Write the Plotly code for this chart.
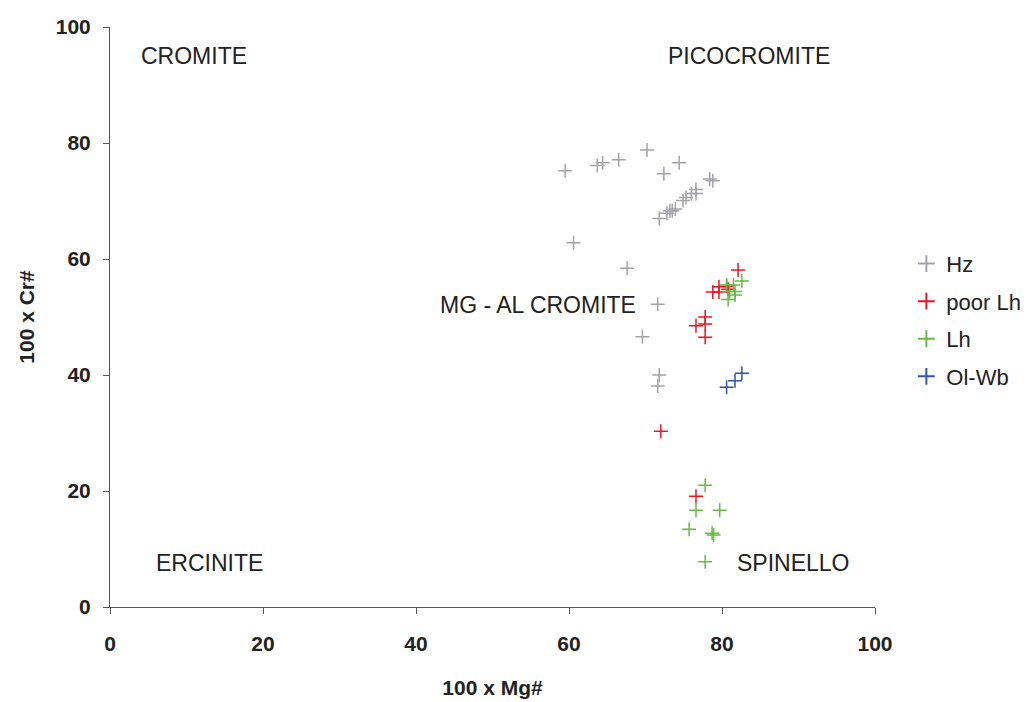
import plotly.graph_objects as go

# Hz
hz_mg = [59.5, 63.7, 64.4, 66.5, 70.2, 74.4, 72.4, 78.4, 78.8, 76.6, 76.6, 76.0, 75.3, 74.9,
         73.9, 73.5, 73.2, 72.8, 71.8, 60.6, 67.6, 71.6, 69.6, 71.8, 71.6]
hz_cr = [75.2, 76.1, 76.6, 77.1, 78.8, 76.6, 74.7, 73.8, 73.5, 72.0, 71.3, 71.3, 70.6, 70.1,
         68.6, 68.3, 68.3, 67.9, 67.0, 62.8, 58.4, 52.2, 46.6, 40.0, 38.1]
# poor Lh
plh_mg = [82.1, 78.8, 79.6, 79.6, 80.6, 80.8, 77.8, 77.8, 76.6, 77.8, 72.0, 76.6]
plh_cr = [58.1, 54.3, 55.2, 54.3, 55.3, 54.8, 50.0, 48.8, 48.5, 46.5, 30.3, 19.1]
# Lh
lh_mg = [82.6, 80.6, 81.5, 81.0, 81.7, 81.7, 80.8, 77.8, 76.6, 79.7, 75.7, 78.7, 78.9, 77.8]
lh_cr = [56.2, 55.5, 55.5, 54.4, 54.4, 53.8, 53.0, 21.0, 16.7, 16.7, 13.4, 12.7, 12.4, 7.8]
# Ol-Wb
ow_mg = [82.6, 81.7, 80.6]
ow_cr = [40.3, 39.0, 37.9]

series_names = ["Hz", "poor Lh", "Lh", "Ol-Wb"]
series_x = [hz_mg, plh_mg, lh_mg, ow_mg]
series_y = [hz_cr, plh_cr, lh_cr, ow_cr]
colors = ["#A3A3AB", "#F0141E", "#66BB44", "#2F55A8"]

field_labels = ["CROMITE", "PICOCROMITE", "MG - AL CROMITE", "ERCINITE", "SPINELLO"]
field_x = [11.0, 83.5, 56.0, 13.0, 89.3]
field_y = [95.0, 95.0, 52.0, 7.6, 7.6]

FONT = "Liberation Sans, Arial"

fig = go.Figure()
for n, xs, ys, c in zip(series_names, series_x, series_y, colors):
    fig.add_trace(go.Scatter(
        x=xs, y=ys, mode="markers", name=n, legendgroup=n,
        marker=dict(symbol="cross-thin", size=10, line=dict(color=c, width=1.5), color=c),
    ))

for t, x, y in zip(field_labels, field_x, field_y):
    fig.add_annotation(x=x, y=y, text=t, showarrow=False, xref="x", yref="y",
                       font=dict(family=FONT, size=23, color="#222222"))

axis_common = dict(
    range=[0, 100], dtick=20, showgrid=False, zeroline=False, showline=True,
    linecolor="#555555", linewidth=1, ticks="outside", ticklen=6, tickcolor="#555555",
    automargin=False,
    tickfont=dict(family=FONT, size=21, color="#222222", weight="bold"),
)

# page body adds an 8px offset; margins compensate so the plot lands where the reference has it
fig.update_layout(
    width=1031, height=702,
    margin=dict(l=102, r=164, t=19, b=103, autoexpand=False),
    paper_bgcolor="white", plot_bgcolor="white",
    xaxis=dict(**axis_common, ticklabelstandoff=12,
               title=dict(text="<b>100 x Mg#</b>", standoff=26,
                          font=dict(family=FONT, size=21, color="#222222"))),
    yaxis=dict(**axis_common, ticklabelstandoff=8,
               title=dict(text="<b>100 x Cr#</b>", standoff=15,
                          font=dict(family=FONT, size=21, color="#222222"))),
    legend=dict(x=1.041, y=0.628, xanchor="left", yanchor="top", tracegroupgap=6,
                font=dict(family=FONT, size=22, color="#222222"),
                itemsizing="constant"),
    showlegend=True,
)

fig.write_html("out.html")
